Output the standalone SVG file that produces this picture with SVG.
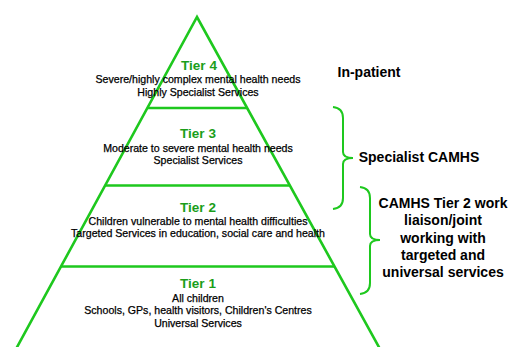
<svg xmlns="http://www.w3.org/2000/svg" width="510" height="347" viewBox="0 0 510 347">
<style>
.ln{stroke:#1ec81e;stroke-width:2.6;fill:none;stroke-linejoin:miter}
.br{stroke:#1ec81e;stroke-width:2;fill:none}
.tier{font-family:"Liberation Sans",Arial,sans-serif;font-weight:bold;font-size:13.5px;fill:#1a9e1a;text-anchor:middle}
.d{font-family:"Liberation Sans",Arial,sans-serif;font-size:10.6px;fill:#000;text-anchor:middle;stroke:#000;stroke-width:0.25}
.lab{font-family:"Liberation Sans",Arial,sans-serif;font-weight:bold;font-size:14px;fill:#000;text-anchor:middle}
</style>
<rect width="510" height="347" fill="#fff"/>
<g id="pyramid">
<polyline class="ln" points="16,349 197,17 380,349"/>
</g>
<g id="connectors">
<line class="ln" x1="148" y1="108" x2="247" y2="108"/>
<line class="ln" x1="105" y1="185.5" x2="289" y2="185.5"/>
<line class="ln" x1="61" y1="266.5" x2="334" y2="266.5"/>
<path class="br" d="M333,107 Q343,108 343,118 L343,152 Q343,158 353,158 Q343,158 343,164 L343,198 Q343,208 333,209"/>
<path class="br" d="M360,187 Q370,188 370,198 L370,234 Q370,240 380,240 Q370,240 370,246 L370,283 Q370,293 360,294"/>
</g>
<g id="tier4">
<text class="tier" x="199" y="70">Tier 4</text>
<text class="d" x="198" y="83">Severe/highly complex mental health needs</text>
<text class="d" x="198" y="96">Highly Specialist Services</text>
</g>
<g id="tier3">
<text class="tier" x="198" y="138">Tier 3</text>
<text class="d" x="198" y="152">Moderate to severe mental health needs</text>
<text class="d" x="198" y="164">Specialist Services</text>
</g>
<g id="tier2">
<text class="tier" x="198" y="212">Tier 2</text>
<text class="d" x="198" y="225">Children vulnerable to mental health difficulties</text>
<text class="d" x="198" y="237">Targeted Services in education, social care and health</text>
</g>
<g id="tier1">
<text class="tier" x="198" y="288">Tier 1</text>
<text class="d" x="198" y="302">All children</text>
<text class="d" x="198" y="314">Schools, GPs, health visitors, Children's Centres</text>
<text class="d" x="198" y="327">Universal Services</text>
</g>
<g id="inpatient">
<text class="lab" x="369" y="77">In-patient</text>
</g>
<g id="specialist">
<text class="lab" x="419" y="162">Specialist CAMHS</text>
</g>
<g id="tier2work">
<text class="lab" x="443" y="208">CAMHS Tier 2 work</text>
<text class="lab" x="443" y="225">liaison/joint</text>
<text class="lab" x="443" y="243">working with</text>
<text class="lab" x="443" y="260">targeted and</text>
<text class="lab" x="443" y="277">universal services</text>
</g>
</svg>
